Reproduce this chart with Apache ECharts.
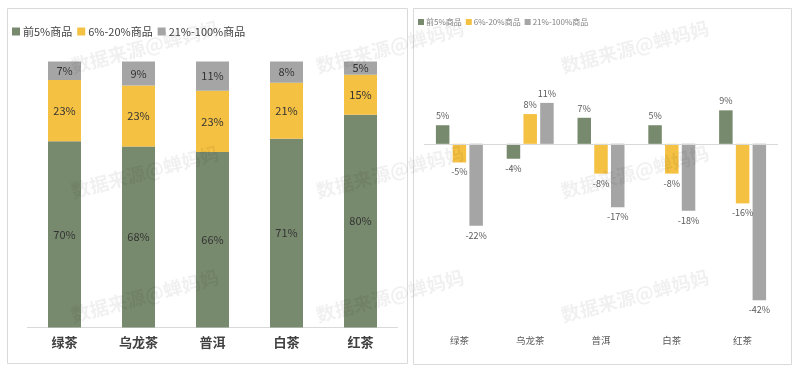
<!DOCTYPE html>
<html>
<head>
<meta charset="utf-8">
<script src="https://cdn.jsdelivr.net/npm/echarts@6/dist/echarts.min.js"></script>
<style>
html,body{margin:0;padding:0;background:#fff;}
#c{width:800px;height:371px;}
</style>
</head>
<body>
<div id="c"></div>
<script>
var categories = ['绿茶', '乌龙茶', '普洱', '白茶', '红茶'];
var seriesNames = ['前5%商品', '6%-20%商品', '21%-100%商品'];
// left chart: share of sales (%)
var shareTop5 = [70, 68, 66, 71, 80];
var share6to20 = [23, 23, 23, 21, 15];
var share21to100 = [7, 9, 11, 8, 5];
// right chart: change (%)
var chgTop5 = [5, -4, 7, 5, 9];
var chg6to20 = [-5, 8, -8, -8, -16];
var chg21to100 = [-22, 11, -17, -18, -42];
var colors = ['#788A6E', '#F5C142', '#A5A5A5'];
var watermark = '数据来源@蝉妈妈';

var chart = echarts.init(document.getElementById('c'));

function signed(arr) {
  return arr.map(function (v) {
    return { value: v, label: { position: v < 0 ? 'bottom' : 'top' } };
  });
}

var leftData = [shareTop5, share6to20, share21to100];
var rightData = [chgTop5, chg6to20, chg21to100];

var series = [];
leftData.forEach(function (d, i) {
  series.push({
    name: seriesNames[i], type: 'bar', stack: 'share', xAxisIndex: 0, yAxisIndex: 0,
    data: d, barWidth: 33, itemStyle: { color: colors[i] },
    label: { show: true, position: 'inside', formatter: '{c}%', color: '#333', fontSize: 11 },
    emphasis: { disabled: true }
  });
});
rightData.forEach(function (d, i) {
  var s = {
    name: seriesNames[i], type: 'bar', xAxisIndex: 1, yAxisIndex: 1,
    data: signed(d), barWidth: 13.5, barGap: '24%', itemStyle: { color: colors[i] },
    label: { show: true, formatter: '{c}%', color: '#595959', fontSize: 9, distance: 5 },
    emphasis: { disabled: true }
  };
  if (i === 0) {
    s.markLine = {
      silent: true, symbol: 'none', label: { show: false },
      lineStyle: { color: '#d9d9d9', type: 'solid', width: 1 },
      data: [{ yAxis: 0 }]
    };
  }
  series.push(s);
});

var wmX = [145, 390, 635], wmY = [47, 172, 296];
var graphics = [
  { type: 'rect', shape: { x: 7.5, y: 8.5, width: 400, height: 355 }, style: { fill: 'none', stroke: '#d9d9d9', lineWidth: 1 }, z: -1 },
  { type: 'rect', shape: { x: 413.5, y: 8.5, width: 378, height: 356 }, style: { fill: 'none', stroke: '#d9d9d9', lineWidth: 1 }, z: -1 }
];
wmX.forEach(function (x) {
  wmY.forEach(function (y) {
    graphics.push({
      type: 'text', x: x, y: y, rotation: 0.26, silent: true, z: 100,
      style: { text: watermark, fill: 'rgba(0,0,0,0.06)', font: 'bold 19px "Noto Sans CJK SC"', textAlign: 'center', textVerticalAlign: 'middle' }
    });
  });
});

chart.setOption({
  animation: false,
  textStyle: { fontFamily: '"Noto Sans CJK SC", "Liberation Sans", sans-serif' },
  legend: [
    {
      left: 12, top: 26, padding: 0, itemWidth: 8, itemHeight: 8, itemGap: 5, icon: 'rect',
      textStyle: { fontSize: 11, color: '#404040', padding: [0, 0, 0, -2] },
      data: seriesNames, selectedMode: false
    },
    {
      left: 418, top: 18, padding: 0, itemWidth: 6, itemHeight: 6, itemGap: 4, icon: 'rect',
      textStyle: { fontSize: 8, color: '#7f7f7f', padding: [0, 0, 0, -3] },
      data: seriesNames, selectedMode: false
    }
  ],
  grid: [
    { left: 27.5, top: 61.5, width: 370, height: 266, containLabel: false },
    { left: 424, top: 88, width: 354, height: 242, containLabel: false }
  ],
  xAxis: [
    {
      gridIndex: 0, type: 'category', data: categories,
      axisLine: { show: true, lineStyle: { color: '#d9d9d9' } },
      axisTick: { show: false },
      axisLabel: { color: '#404040', fontSize: 13, fontWeight: 'bold', margin: 8 }
    },
    {
      gridIndex: 1, type: 'category', data: categories,
      axisLine: { show: false, onZero: false },
      axisTick: { show: false },
      axisLabel: { color: '#595959', fontSize: 9.5, margin: 6 }
    }
  ],
  yAxis: [
    { gridIndex: 0, type: 'value', min: 0, max: 100, show: false },
    { gridIndex: 1, type: 'value', min: -50, max: 15, show: false }
  ],
  series: series,
  graphic: graphics
});
</script>
</body>
</html>
